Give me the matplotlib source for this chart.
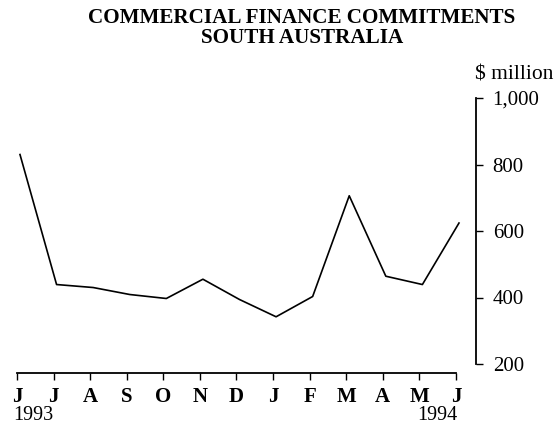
import matplotlib
matplotlib.use("Agg")
import matplotlib.pyplot as plt

months = ["J", "J", "A", "S", "O", "N", "D", "J", "F", "M", "A", "M", "J"]
values = [830, 439, 430, 409, 397, 455, 394, 342, 403, 706, 464, 439, 624]
yticks = [200, 400, 600, 800, 1000]
ytick_labels = ["200", "400", "600", "800", "1,000"]

W, H = 557, 426
fig = plt.figure(figsize=(W / 100, H / 100), dpi=100)
serif = ["Liberation Serif", "DejaVu Serif"]

def box(l, r, t, b):
    return [l / W, (H - b) / H, (r - l) / W, (b - t) / H]

# main plot
ax = fig.add_axes(box(16, 476, 98, 364))
x = list(range(len(values)))
ax.plot(x, values, color="black", lw=1.2)
ax.set_xlim(-0.109, 12.465)
ax.set_ylim(200, 1000)
for s in ["left", "top", "bottom"]:
    ax.spines[s].set_visible(False)
ax.spines["right"].set_linewidth(1.3)
ax.yaxis.tick_right()
ax.set_yticks(yticks)
ax.set_yticklabels(ytick_labels, fontfamily=serif, fontsize=15)
ax.tick_params(axis="y", direction="out", length=5, width=1, pad=7)
ax.set_xticks([])
ax.patch.set_alpha(0)

# separate month axis
ax2 = fig.add_axes(box(17, 456, 360, 373))
ax2.set_xlim(0, 12)
ax2.set_ylim(0, 1)
for s in ["left", "top", "right"]:
    ax2.spines[s].set_visible(False)
ax2.spines["bottom"].set_linewidth(1.3)
ax2.set_yticks([])
ax2.set_xticks(range(len(months)))
ax2.set_xticklabels(months, fontfamily=serif, fontsize=15, fontweight="bold")
ax2.tick_params(axis="x", direction="out", length=5, width=1, pad=5)
ax2.patch.set_alpha(0)

fig.text(13 / W, 1 - 415 / H, "1993", fontfamily=serif, fontsize=14.5, ha="left", va="center")
fig.text(457 / W, 1 - 415 / H, "1994", fontfamily=serif, fontsize=14.5, ha="right", va="center")
fig.text(475 / W, 1 - 75 / H, "$ million", fontfamily=serif, fontsize=15.5, ha="left", va="center")

fig.text(302 / W, 1 - 28 / H, "COMMERCIAL FINANCE COMMITMENTS\nSOUTH AUSTRALIA",
         fontfamily=serif, fontsize=15.2, fontweight="bold", ha="center", va="center",
         linespacing=1.05)

fig.savefig("out.png", dpi=100)
